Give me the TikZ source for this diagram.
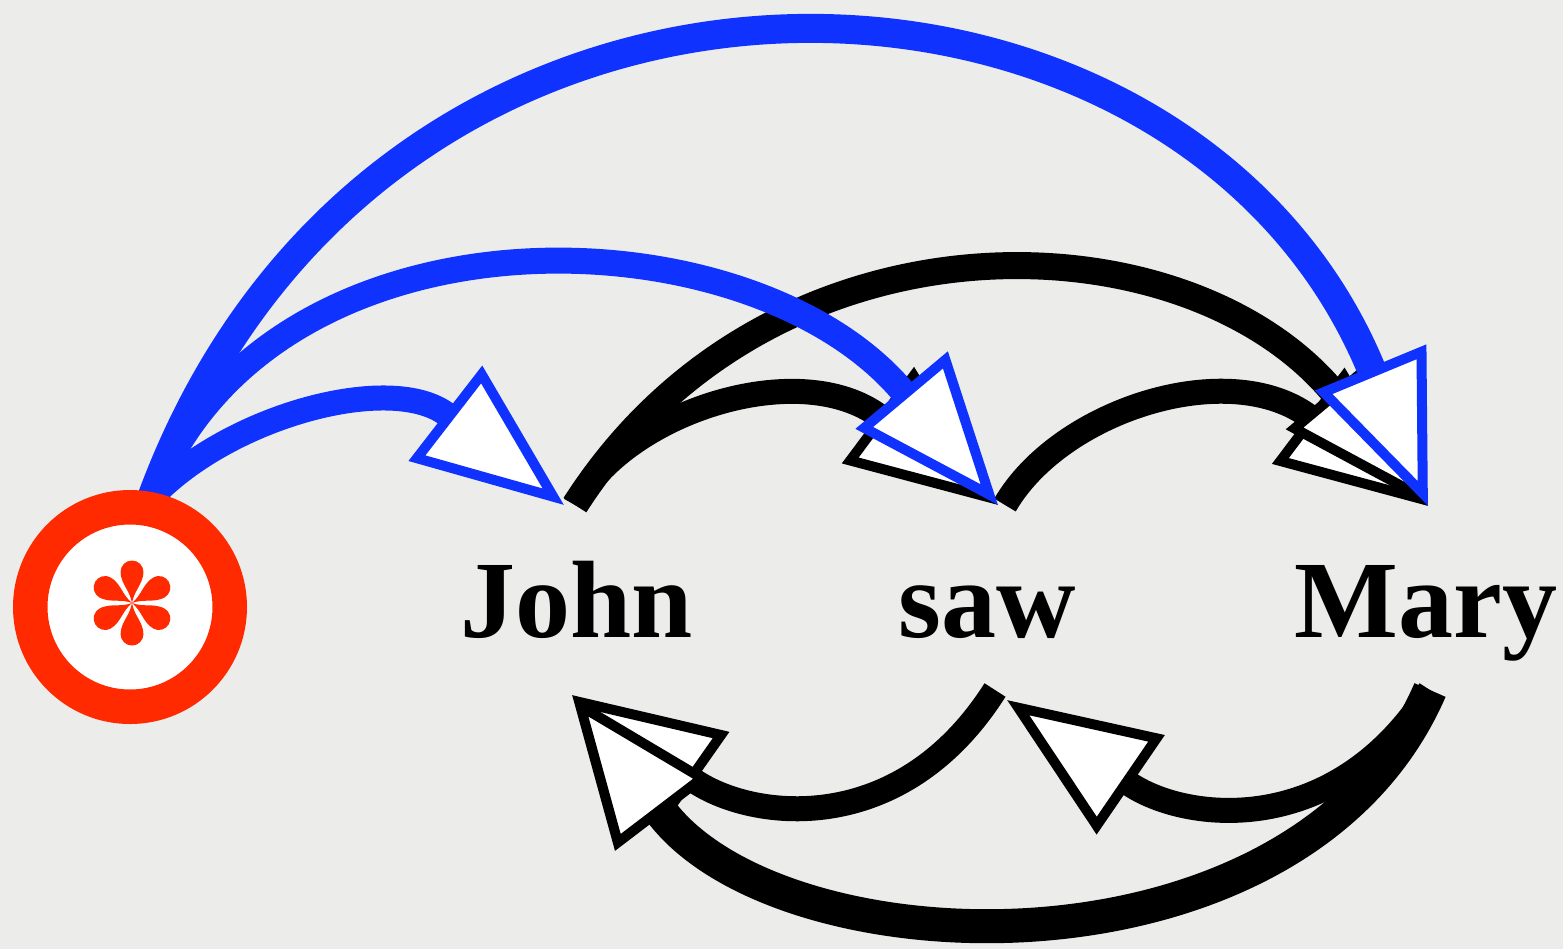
\documentclass[tikz,border=0pt]{standalone}
\usepackage{fontspec}
\setmainfont{Liberation Serif}
\usetikzlibrary{arrows.meta,calc}
\definecolor{bg}{RGB}{236,237,234}
\definecolor{ringred}{RGB}{255,42,0}
\definecolor{arcblue}{RGB}{16,50,255}
\newcommand\wordfont{\bfseries\fontsize{55}{60}\selectfont}
\tikzset{
  word/.style={anchor=base, inner sep=0pt, font=\wordfont, text=black},
  head/.style={-{Triangle[length=75pt,width=59pt,fill=white,line width=5pt]}},
  blk/.style={draw=black, head, line cap=butt},
  blu/.style={draw=arcblue, head, line cap=butt},
}
\begin{document}
\begin{tikzpicture}[x=0.5pt,y=-0.5pt]
\fill[bg] (0,0) rectangle (1563,949);
\useasboundingbox (0,0) rectangle (1563,949);

% words
\node[word] (john) at (577,637) {John};
\node[word] (saw)  at (987,637) {saw};
\node[word] (mary) at (1426,637) {Mary};
\coordinate (root) at (130,607);

% connector ends
\coordinate (rs)  at ($(root)+(22,-110)$);
\coordinate (jt)  at ($(john.base)+(-2,-132)$);
\coordinate (jtb) at ($(john.base)+(-13,-132)$);
\coordinate (st)  at ($(saw.base)+(18,-132)$);
\coordinate (stk) at ($(saw.base)+(11,-132)$);
\coordinate (mt)  at ($(mary.base)+(2,-131)$);
\coordinate (jb)  at ($(john.base)+(-5,58)$);
\coordinate (sb)  at ($(saw.base)+(8,53)$);
\coordinate (sbt) at ($(saw.base)+(20,63)$);
\coordinate (mb)  at ($(mary.base)+(4,53)$);

% black arcs above
\draw[blk, line width=12.5pt] (st) .. controls (1060,410) and (1229,356) .. (mt);
\draw[blk, line width=13.5pt] (jt) .. controls (770,200) and (1185,214) .. (mt);
\draw[blk, line width=12.5pt] (jt) .. controls (625,412) and (799,356) .. (stk);

% black arcs below
\draw[blk, line width=12.5pt] (mb) .. controls (1335,840) and (1185,822) .. (sbt);
\draw[blk, line width=12.5pt] (sb) .. controls (900,840) and (750,820) .. (jb);
\draw[blk, line width=17pt] (mb) .. controls (1300,990) and (784,973) .. (jb);

% blue arcs from root
\draw[blu, line width=14.5pt] (rs) .. controls (380,-120) and (1181,-91) .. (mt);
\draw[blu, line width=13pt] (rs) .. controls (270,195) and (749,208) .. (stk);
\draw[blu, line width=12.5pt] (rs) .. controls (230,415) and (392,372) .. (jtb);

% root ring
\node[circle, draw=ringred, fill=white, line width=17.25pt, minimum size=99.75pt, inner sep=0pt] (ring) at (root) {};
\foreach \a in {30,90,150,210,270,330}{
  \begin{scope}[shift={(132,603)}, rotate=\a]
    \fill[ringred] (31,0) circle[radius=11.5];
    \fill[ringred] (0,0) .. controls (12,2) and (18,10) .. (29,11.3) -- (29,-11.3) .. controls (18,-10) and (12,-2) .. (0,0) -- cycle;
  \end{scope}
}
\end{tikzpicture}
\end{document}
